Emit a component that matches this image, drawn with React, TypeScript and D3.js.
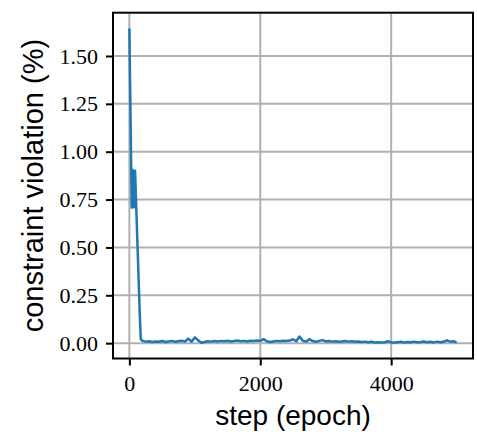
import React, { useEffect, useRef } from 'react';
import * as d3 from 'd3';

// early part of the run (steps and constraint violation in %)
const earlySteps = [0, 36, 51, 71, 87, 110, 135, 160, 175];
const earlyValues = [1.644, 0.708, 0.905, 0.71, 0.9, 0.66, 0.4, 0.14, 0.02];

// after that, one reading every 50 steps from 200 to 5000
const lateValues = [
  0.012, 0.008, 0.01, 0.006, 0.009, 0.007, 0.011, 0.006, 0.009, 0.012,
  0.007, 0.01, 0.013, 0.009, 0.024, 0.008, 0.03, 0.015, 0.002, 0.006,
  0.01, 0.008, 0.011, 0.009, 0.012, 0.01, 0.013, 0.009, 0.011, 0.014,
  0.01, 0.012, 0.009, 0.013, 0.011, 0.014, 0.012, 0.021, 0.01, 0.006,
  0.009, 0.012, 0.01, 0.013, 0.011, 0.014, 0.02, 0.01, 0.035, 0.012,
  0.008, 0.021, 0.011, 0.007, 0.012, 0.016, 0.009, 0.011, 0.008, 0.01,
  0.007, 0.009, 0.011, 0.008, 0.01, 0.007, 0.009, 0.006, 0.008, 0.005,
  0.007, 0.004, 0.005, 0.003, 0.005, 0.01, 0.004, 0.003, 0.005, 0.007,
  0.004, 0.006, 0.005, 0.008, 0.004, 0.006, 0.009, 0.005, 0.007, 0.004,
  0.008, 0.005, 0.007, 0.015, 0.008, 0.01, 0.004,
];
const lateSteps = d3.range(200, 5001, 50);

const xTicks = [0, 2000, 4000];
const yTicks = [0, 0.25, 0.5, 0.75, 1.0, 1.25, 1.5];

const App = () => {
  const ref = useRef<SVGSVGElement>(null);
  const dim = { width: 477, height: 437 };
  const m = { left: 113, top: 12.7, right: 473, bottom: 358.5 };

  useEffect(() => {
    const svg = d3.select(ref.current);
    svg.selectAll('*').remove();

    const data = earlySteps
      .map((s, i) => ({ step: s, v: earlyValues[i] }))
      .concat(lateSteps.map((s, i) => ({ step: s, v: lateValues[i] })));

    // matplotlib-like 5% margins
    const [x0, x1] = d3.extent(data, (d) => d.step) as [number, number];
    const [y0, y1] = d3.extent(data, (d) => d.v) as [number, number];
    const px = (x1 - x0) * 0.05;
    const py = (y1 - y0) * 0.05;

    const x = d3.scaleLinear().domain([x0 - px, x1 + px]).range([m.left, m.right]);
    const y = d3.scaleLinear().domain([y0 - py, y1 + py]).range([m.bottom, m.top]);

    //grid
    const grid = svg.append('g').attr('stroke', '#b0b0b0').attr('stroke-width', 2);
    grid
      .selectAll('line.gx')
      .data(xTicks)
      .join('line')
      .attr('class', 'gx')
      .attr('x1', (d) => x(d))
      .attr('x2', (d) => x(d))
      .attr('y1', m.top)
      .attr('y2', m.bottom);
    grid
      .selectAll('line.gy')
      .data(yTicks)
      .join('line')
      .attr('class', 'gy')
      .attr('x1', m.left)
      .attr('x2', m.right)
      .attr('y1', (d) => y(d))
      .attr('y2', (d) => y(d));

    //line
    const line = d3
      .line<{ step: number; v: number }>()
      .x((d) => x(d.step))
      .y((d) => y(d.v));
    svg
      .append('path')
      .datum(data)
      .attr('d', line)
      .attr('fill', 'none')
      .attr('stroke', '#1f77b4')
      .attr('stroke-width', 2.5)
      .attr('stroke-linejoin', 'round');

    //axes
    const xAxis = svg
      .append('g')
      .attr('transform', `translate(0,${m.bottom})`)
      .call(
        d3.axisBottom(x).tickValues(xTicks).tickSize(7).tickPadding(10).tickFormat(d3.format('d'))
      );
    const yAxis = svg
      .append('g')
      .attr('transform', `translate(${m.left},0)`)
      .call(
        d3.axisLeft(y).tickValues(yTicks).tickSize(7).tickPadding(8).tickFormat(d3.format('.2f'))
      );
    [xAxis, yAxis].forEach((a) => {
      a.select('.domain').remove();
      a.selectAll('line').attr('stroke', '#000').attr('stroke-width', 2);
      a.selectAll('text')
        .attr('fill', '#000')
        .style('font-family', '"Liberation Serif", serif')
        .style('font-size', '22px');
    });

    //frame
    svg
      .append('rect')
      .attr('x', m.left)
      .attr('y', m.top)
      .attr('width', m.right - m.left)
      .attr('height', m.bottom - m.top)
      .attr('fill', 'none')
      .attr('stroke', '#000')
      .attr('stroke-width', 2);

    //labels
    svg
      .append('text')
      .attr('x', (m.left + m.right) / 2)
      .attr('y', 425)
      .attr('text-anchor', 'middle')
      .style('font-family', '"Liberation Sans", sans-serif')
      .style('font-size', '28px')
      .text('step (epoch)');
    svg
      .append('text')
      .attr('transform', `translate(43,${(m.top + m.bottom) / 2}) rotate(-90)`)
      .attr('text-anchor', 'middle')
      .style('font-family', '"Liberation Sans", sans-serif')
      .style('font-size', '29px')
      .text('constraint violation (%)');
  });

  return (
    <div>
      <svg
        ref={ref}
        width={dim.width}
        height={dim.height}
        style={{ position: 'absolute', left: 0, top: 0, background: '#fff' }}
      ></svg>
    </div>
  );
};

export default App;
